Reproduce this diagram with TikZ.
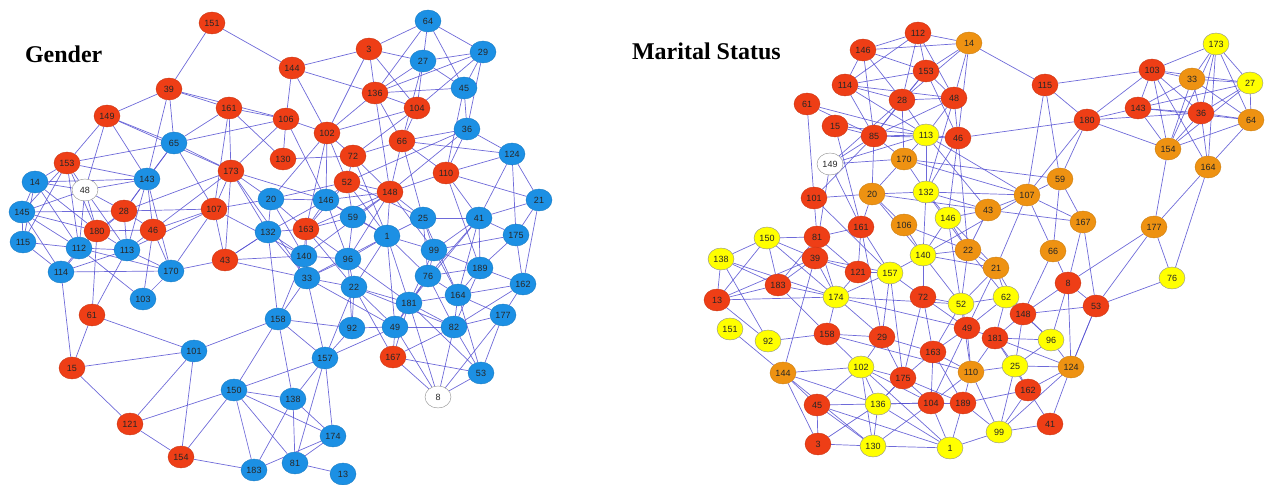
\documentclass[tikz,border=0pt]{standalone}
\usepackage{fontspec}
\setmainfont{Liberation Serif}
\setsansfont{Liberation Sans}
\usepackage{tikz}
\usepackage{xcolor}
\usetikzlibrary{shapes.geometric, backgrounds}

\definecolor{nodered}{RGB}{238,62,22}
\definecolor{nodeblue}{RGB}{28,144,228}
\definecolor{nodeorange}{RGB}{238,146,18}
\definecolor{nodeyellow}{RGB}{255,255,0}
\definecolor{tiecolor}{RGB}{85,80,210}

\tikzset{
  vertex/.style={ellipse, minimum width=13pt, minimum height=11pt, inner sep=0pt,
    line width=0.2pt, text=black!85, font=\sffamily\fontsize{4.5}{5}\selectfont},
  redv/.style={vertex, fill=nodered, draw=nodered!85!black},
  bluev/.style={vertex, fill=nodeblue, draw=nodeblue!85!black},
  orangev/.style={vertex, fill=nodeorange, draw=nodeorange!85!black},
  yellowv/.style={vertex, fill=nodeyellow, draw=black!45},
  whitev/.style={vertex, fill=white, draw=black!45},
  tie/.style={draw=tiecolor, line width=0.35pt, opacity=0.85},
  title/.style={font=\bfseries\fontsize{12}{14}\selectfont, anchor=west}
}

\begin{document}
\begin{tikzpicture}[x=0.5pt, y=-0.5pt]
    \useasboundingbox (0,0) rectangle (1265,485);

    % Titles
    \node[title] (gtitle) at (18,54) {Gender};
    \node[title] (mtitle) at (625,51) {Marital Status};

    % Gender: red nodes
    \foreach \n/\x/\y in {151/212/23, 3/369/49, 144/292/68, 39/169/89, 136/375/93,
        104/417/108, 149/107/116, 161/229/108, 106/286/119, 102/327/133, 66/402/141,
        130/283/159, 72/353/156, 153/67/163, 173/231/171, 52/347/182, 110/446/173,
        148/390/192, 28/124/211, 107/214/209, 163/306/229, 180/97/231, 46/153/230,
        43/225/260, 61/92/315, 167/393/357, 15/72/368, 121/130/424, 154/181/457}
        \node[redv] (g\n) at (\x,\y) {\n};

    % Gender: blue nodes
    \foreach \n/\x/\y in {64/428/21, 29/483/52, 27/423/61, 45/464/88, 36/467/129,
        65/174/143, 124/512/154, 14/35/182, 143/147/179, 145/22/212, 20/271/199,
        146/326/200, 59/353/217, 21/539/200, 25/423/218, 41/479/218, 115/23/242,
        112/79/248, 113/127/250, 132/268/232, 1/387/236, 175/516/235, 140/304/256,
        96/348/259, 99/434/250, 170/171/271, 114/61/272, 189/480/268, 76/428/276,
        33/307/278, 22/354/287, 164/458/295, 162/523/284, 103/143/299, 181/409/303,
        158/278/319, 177/503/315, 92/352/328, 49/395/327, 82/454/327, 101/194/351,
        157/325/358, 53/481/373, 150/234/390, 138/293/399, 174/333/436, 183/254/470,
        81/295/463, 13/343/474}
        \node[bluev] (g\n) at (\x,\y) {\n};

    % Gender: unknown
    \node[whitev] (g48) at (85,190) {48};
    \node[whitev] (g8) at (438,397) {8};

    % Marital status: red nodes
    \node[redv] (m146a) at (863,50) {146};
    \foreach \n/\x/\y in {112/918/33, 114/845/85, 153/926/71, 28/902/100, 48/954/98,
        61/807/104, 15/835/126, 85/874/136, 46/958/138, 115/1045/85, 180/1087/120,
        103/1152/70, 143/1138/108, 36/1201/113, 101/814/198, 161/861/227, 81/817/237,
        39/815/258, 121/858/272, 183/778/285, 13/717/300, 158/827/334, 29/882/337,
        72/923/297, 8/1068/283, 148/1023/314, 49/967/328, 181/995/338, 53/1096/306,
        163/933/352, 175/903/378, 162/1028/390, 104/931/403, 189/963/403, 41/1050/424,
        45/817/405, 3/818/444}
        \node[redv] (m\n) at (\x,\y) {\n};

    % Marital status: orange nodes
    \foreach \n/\x/\y in {14/969/43, 170/904/159, 20/872/194, 59/1060/179, 107/1027/195,
        43/988/210, 106/904/225, 167/1083/222, 33/1192/79, 64/1251/120, 154/1168/149,
        164/1208/167, 177/1154/227, 22/968/250, 66/1053/251, 21/996/268, 144/783/373,
        110/971/372, 124/1071/367}
        \node[orangev] (m\n) at (\x,\y) {\n};

    % Marital status: yellow nodes
    \foreach \n/\x/\y in {113/926/135, 132/926/192, 146/948/218, 173/1216/44, 27/1250/83,
        150/767/238, 138/721/259, 157/890/273, 140/923/255, 174/836/297, 151/730/329,
        92/768/341, 52/961/304, 62/1006/297, 96/1051/340, 76/1172/278, 102/861/367,
        136/878/404, 130/873/446, 25/1015/366, 99/999/432, 1/950/448}
        \node[yellowv] (m\n) at (\x,\y) {\n};

    % Marital status: unknown
    \node[whitev] (m149) at (830,164) {149};

    \begin{scope}[on background layer]
    % Gender links
    \foreach \a/\b in {151/144, 151/39, 144/3, 144/136, 144/106, 144/102,
        3/102, 3/104, 3/27, 3/64, 3/136, 64/27, 64/29, 64/45, 64/136,
        27/29, 27/45, 27/104, 27/136, 27/66, 29/45, 29/36, 29/104, 29/136,
        45/36, 45/110, 45/136, 136/104, 136/102, 136/66, 136/148,
        104/66, 104/102, 104/72, 36/66, 36/110, 36/124, 36/148, 36/52,
        66/148, 66/110, 66/25, 66/72, 66/124, 124/110, 124/21, 124/175, 124/41,
        110/148, 110/21, 110/41, 110/189, 21/175, 21/162, 21/41,
        39/149, 39/65, 39/161, 39/143, 39/106, 149/153, 149/143, 149/65, 149/48, 149/173,
        161/106, 161/173, 161/65, 161/130, 161/107, 106/130, 106/102, 106/173, 106/146, 106/65,
        102/72, 102/52, 102/146, 102/163, 102/20, 130/72, 72/52, 72/148, 72/1,
        52/148, 52/146, 52/59, 52/20, 52/163, 52/1, 52/25,
        65/143, 65/153, 65/28, 65/173, 65/107,
        143/153, 143/48, 143/28, 143/46, 143/14, 143/170, 143/113,
        153/14, 153/48, 153/145, 153/180, 153/115, 153/112,
        14/48, 14/145, 14/115, 14/112, 14/180, 48/28, 48/180, 48/112, 48/113, 48/145,
        145/115, 145/112, 145/180, 145/114, 145/28, 28/180, 28/46, 28/113, 28/112, 28/107,
        180/112, 180/113, 180/114, 180/61, 180/46, 46/113, 46/170, 46/107, 46/103, 46/173,
        115/112, 115/114, 112/113, 112/114, 112/103, 112/170,
        113/170, 113/114, 113/61, 113/107, 114/170, 114/15, 170/103, 170/107, 170/43,
        173/107, 173/43, 173/20, 173/132, 173/33, 173/146, 173/28,
        107/43, 107/20, 107/140, 20/146, 20/132, 20/163, 20/140,
        146/163, 146/59, 146/132, 146/96, 146/148, 146/1, 59/163, 59/96, 59/148, 59/1,
        132/163, 132/140, 132/33, 132/158, 132/43, 163/140, 163/33, 163/96, 163/148, 163/22,
        148/1, 148/25, 148/96, 148/99, 148/140, 25/1, 25/99, 25/41, 25/76, 25/164,
        41/99, 41/189, 41/175, 41/164, 41/76, 41/181, 175/189, 175/162, 175/99,
        1/96, 1/99, 1/76, 1/181, 1/22, 1/33, 1/49, 43/140, 43/33, 43/132,
        140/33, 140/96, 140/158, 96/33, 96/22, 96/92, 96/181,
        99/189, 99/76, 99/164, 99/181, 189/162, 189/164, 189/76, 189/82,
        76/164, 76/181, 76/49, 76/82, 33/22, 33/158, 33/157, 33/49,
        22/181, 22/49, 22/92, 22/157, 22/82, 22/167,
        164/162, 164/181, 164/82, 164/177, 164/53, 162/177, 162/82,
        181/49, 181/82, 181/167, 181/8, 181/53, 158/92, 158/157, 158/101, 158/150, 158/138,
        177/82, 177/53, 177/8, 92/157, 92/49, 49/82, 49/167, 49/8, 82/53, 82/8, 82/167,
        101/61, 101/15, 101/121, 101/154, 61/15,
        157/150, 157/138, 157/174, 157/81, 157/49, 167/8, 167/53, 53/8,
        150/138, 150/174, 150/183, 150/81, 150/154, 150/121,
        138/81, 138/183, 138/174, 15/121, 121/154, 154/183, 174/81, 174/183, 81/13}
        \draw[tie] (g\a) -- (g\b);

    % Marital status links
    \foreach \a/\b in {146a/112, 146a/14, 146a/153, 146a/28, 146a/85, 146a/114,
        112/14, 112/153, 112/28, 112/48, 112/114, 14/153, 14/48, 14/28, 14/115, 14/46,
        114/153, 114/28, 114/85, 114/113, 114/48, 153/28, 153/48, 153/85, 153/46,
        28/48, 28/85, 28/113, 28/170, 28/149, 48/85, 48/113, 48/46, 48/132,
        61/85, 61/101, 61/113, 15/85, 15/113, 15/161,
        85/113, 85/170, 85/149, 85/20, 85/101, 85/46, 149/113, 149/170, 149/39, 149/161,
        113/46, 113/170, 113/132, 113/107, 113/43, 46/180, 46/132, 46/146, 46/22,
        115/180, 115/107, 115/59, 115/103, 180/103, 180/143, 180/154, 180/36, 180/107, 180/59,
        170/132, 170/20, 170/59, 170/107, 101/81, 101/20, 101/157,
        20/132, 20/106, 20/161, 20/140, 20/43, 132/146, 132/107, 132/43, 132/140, 132/22,
        107/59, 107/43, 107/167, 107/66, 107/21, 107/140, 59/66, 59/167,
        43/146, 43/22, 43/167, 146/22, 146/140, 146/52, 146/21, 106/140, 106/22,
        161/81, 161/121, 161/157, 161/29,
        103/33, 103/173, 103/143, 103/36, 103/154, 103/164, 103/27,
        173/33, 173/27, 173/36, 173/154, 173/64, 173/164,
        33/27, 33/143, 33/36, 33/154, 33/64, 27/64, 27/36, 27/154, 27/143,
        143/36, 143/154, 143/64, 36/64, 36/154, 36/164, 64/154, 64/164,
        154/177, 164/177, 164/76, 167/53, 167/8, 177/76, 177/53, 177/8, 76/53,
        150/138, 150/81, 150/183, 150/13, 150/39, 150/174, 81/39, 81/183, 81/121, 81/174,
        138/13, 138/183, 138/92, 138/174, 39/183, 39/13, 39/121, 39/174, 39/157, 39/144,
        121/157, 121/174, 157/140, 157/174, 157/29, 157/72, 157/175,
        183/13, 183/174, 183/158, 13/174, 13/92, 174/158, 174/29, 174/52, 174/49,
        151/144, 92/158, 158/29, 158/102, 158/110, 29/175, 29/163, 29/102,
        144/102, 144/45, 144/3, 144/136, 144/130,
        102/45, 102/136, 102/130, 102/175, 102/104, 102/1, 45/136, 45/3, 45/130, 45/1,
        3/130, 3/136, 136/130, 136/104, 136/175, 136/1, 130/1, 130/104,
        140/22, 140/72, 140/52, 140/21, 22/21, 22/52, 22/62, 66/8, 66/148,
        21/62, 21/148, 21/52, 21/49, 8/148, 8/53, 8/124, 8/96,
        72/52, 72/163, 72/49, 72/175, 52/49, 52/62, 52/163, 52/110,
        62/148, 62/49, 62/181, 62/96, 148/181, 148/96, 148/53, 148/25,
        49/181, 49/163, 49/110, 49/104, 181/96, 181/25, 181/110, 181/124, 181/162,
        96/124, 96/25, 163/175, 163/110, 163/104, 163/189,
        110/25, 110/189, 110/104, 110/99, 25/162, 25/99, 25/124,
        124/53, 124/162, 124/41, 124/99, 175/104, 175/189, 175/136,
        162/41, 162/99, 162/189, 104/189, 104/1, 104/136, 189/99, 189/1,
        41/99, 99/1, 53/124}
        \draw[tie] (m\a) -- (m\b);
    \end{scope}
\end{tikzpicture}
\end{document}
